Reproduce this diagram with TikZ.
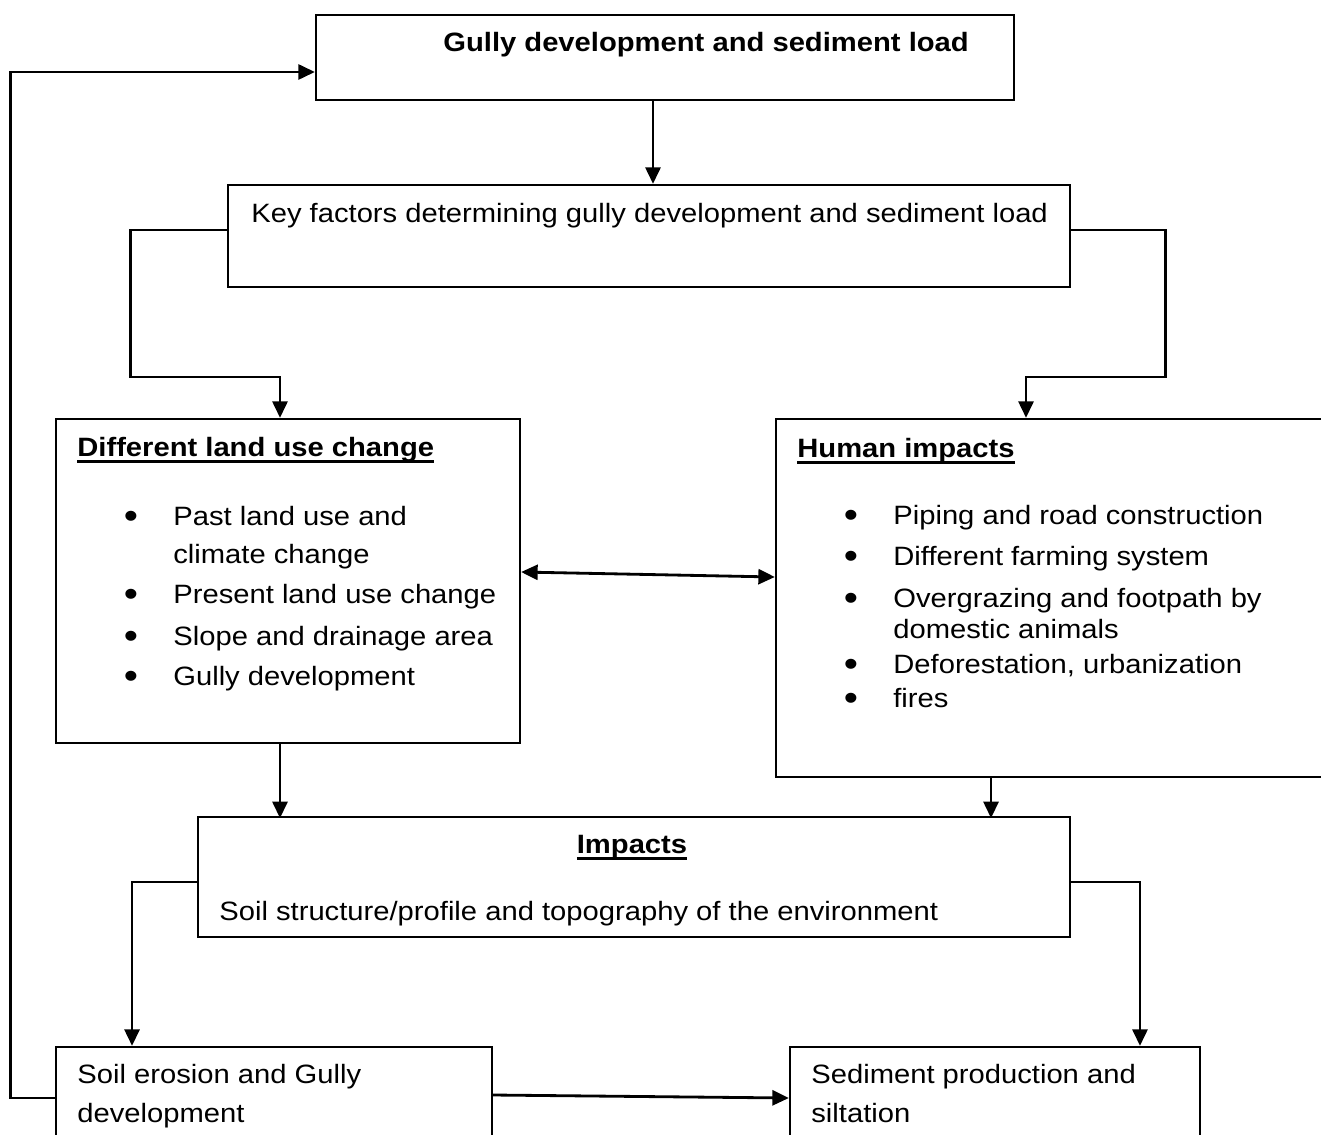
\documentclass[tikz,border=0pt]{standalone}
\usepackage{fontspec}
\setmainfont{Liberation Sans}[FakeStretch=1.1]
\usepackage{tikz}
\usetikzlibrary{
    arrows.meta,
    positioning,
    calc,
    fit
}
\newcommand{\fs}{\fontsize{15.1}{18}\selectfont}
\newcommand{\ulhead}[1]{\leavevmode\setbox0=\hbox{#1}\rlap{\vrule height -2.4pt depth 3.9pt width \wd0}\box0}
\newcommand{\dotmark}{{\fontsize{21}{21}\selectfont\raisebox{-2pt}{\textbullet}}}

\begin{document}
\begin{tikzpicture}[x=0.02cm, y=-0.02cm,
        box/.style={draw, line width=1.3pt, inner sep=0pt},
        arr/.style={line width=1.6pt, -{Triangle[length=0.33cm, width=0.3cm]}},
        dbl/.style={line width=1.6pt, {Triangle[length=0.33cm, width=0.3cm]}-{Triangle[length=0.33cm, width=0.3cm]}},
        txt/.style={anchor=base west, inner sep=0pt, font=\fs},
        head/.style={anchor=base west, inner sep=0pt, font=\fs\bfseries}]
        \useasboundingbox (0,0) rectangle (1321,1135);

        % boxes
        \node[box, fit={(316,15) (1014,100)}] (top) {};
        \node[box, fit={(228,185) (1070,287)}] (key) {};
        \node[box, fit={(56,419) (520,743)}] (land) {};
        \node[box, fit={(776,419) (1340,777)}] (human) {};
        \node[box, fit={(198,817) (1070,937)}] (imp) {};
        \node[box, fit={(56,1047) (492,1170)}] (soil) {};
        \node[box, fit={(790,1047) (1200,1170)}] (sed) {};

        % texts
        \node[head] (toptxt) at (443,52) {Gully development and sediment load};
        \node[txt] (keytxt) at (251,222) {Key factors determining gully development and sediment load};
        \node[head] (landhead) at (77,456) {\ulhead{Different land use change}};
        \node[head] (humanhead) at (797,457) {\ulhead{Human impacts}};
        \node[head, anchor=base] (imphead) at (632,853) {\ulhead{Impacts}};
        \node[txt] (imptxt) at (219,920) {Soil structure/profile and topography of the environment};
        \node[txt] (soiltxt1) at (77,1083) {Soil erosion and Gully};
        \node[txt] (soiltxt2) at (77,1122) {development};
        \node[txt] (sedtxt1) at (811,1083) {Sediment production and};
        \node[txt] (sedtxt2) at (811,1122) {siltation};

        % bullet lists
        \foreach \yy [count=\i] in {525,603,645,685}
            \node[txt, anchor=base] (landdot\i) at (131,\yy) {\dotmark};
        \foreach \yy/\lbl [count=\i] in {525/Past land use and, 563/climate change, 603/Present land use change, 645/Slope and drainage area, 685/Gully development}
            \node[txt] (landitem\i) at (173,\yy) {\lbl};
        \foreach \yy [count=\i] in {524,565,607,673,707}
            \node[txt, anchor=base] (humandot\i) at (851,\yy) {\dotmark};
        \foreach \yy/\lbl [count=\i] in {524/Piping and road construction, 565/Different farming system, 607/Overgrazing and footpath by, 638/domestic animals, 673/{Deforestation, urbanization}, 707/fires}
            \node[txt] (humanitem\i) at (893,\yy) {\lbl};

        % connectors
        \draw[arr] ([xshift=0.08cm]top.south -| key.north) -- ([xshift=0.08cm]key.north);
        \draw[arr] ([yshift=0.12cm]key.west) -| ++(-96,147) -| ([xshift=-0.16cm]land.north);
        \draw[arr] ([yshift=0.12cm]key.east) -| ++(94,147) -| ([xshift=-0.64cm]human.north);
        \draw[dbl] ([yshift=0.18cm]land.east) -- ([yshift=0.42cm]human.west);
        \draw[arr] ([xshift=-0.16cm]land.south) -- ++(0,74);
        \draw[arr] ([xshift=-1.34cm]human.south) -- ++(0,40);
        \draw[arr] ([yshift=-0.1cm]imp.west) -| ([xshift=-2.84cm]soil.north);
        \draw[arr] ([yshift=-0.1cm]imp.east) -| ([xshift=2.9cm]sed.north);
        \draw[arr] ([yshift=0.27cm]soil.east) -- ([yshift=0.21cm]sed.west);
        \draw[arr] ([yshift=0.21cm]soil.west) -- ++(-44,0) |- ([yshift=-0.29cm]top.west);
    \end{tikzpicture}
\end{document}
